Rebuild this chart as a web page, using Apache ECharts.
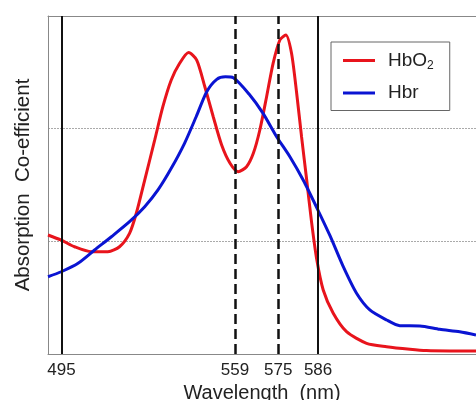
<!DOCTYPE html>
<html>
<head>
<meta charset="utf-8">
<script src="https://cdn.jsdelivr.net/npm/echarts@6/dist/echarts.min.js"></script>
<style>html,body{margin:0;padding:0;background:#fff}#c{width:476px;height:400px}</style>
</head>
<body>
<div id="c"></div>
<script>
// HbO2 absorption curve (wavelength nm, relative absorption)
var hbo2Wl = [490, 494.9, 499.8, 506, 512.1, 516.4, 520.1, 522.6, 525.7, 529.4, 532.4, 535.5, 538.6, 541.9, 544.9, 547.9, 551, 554.1, 557.2, 560.2, 563.3, 565.8, 568.2, 570.7, 573.1, 575.6, 577.8, 579.9, 581.8, 583.6, 585.5, 587.3, 589.2, 591.6, 595.3, 600.2, 607.6, 615, 623.6, 629.7, 638.3, 648];
var hbo2Abs = [1.056, 1.01, 0.952, 0.908, 0.908, 0.952, 1.071, 1.249, 1.544, 1.90, 2.195, 2.432, 2.58, 2.676, 2.609, 2.372, 2.106, 1.855, 1.693, 1.618, 1.662, 1.781, 1.988, 2.284, 2.58, 2.787, 2.831, 2.669, 2.314, 1.929, 1.544, 1.17, 0.84, 0.568, 0.361, 0.198, 0.095, 0.065, 0.042, 0.03, 0.027, 0.027];
// Hbr absorption curve
var hbrWl = [490, 494.9, 501.1, 507.2, 513.4, 520.1, 525.7, 530.6, 535.5, 540.4, 544.7, 548.6, 552.3, 555.5, 558.4, 564.5, 569.4, 574.4, 579.3, 584.2, 589.2, 594.1, 599, 603.9, 608.8, 615, 619.9, 627.3, 634.6, 642, 648];
var hbrAbs = [0.686, 0.73, 0.805, 0.923, 1.041, 1.174, 1.307, 1.456, 1.648, 1.87, 2.106, 2.328, 2.438, 2.46, 2.452, 2.299, 2.136, 1.929, 1.751, 1.544, 1.3, 1.05, 0.775, 0.539, 0.391, 0.302, 0.251, 0.249, 0.219, 0.198, 0.169];
// vertical marker lines (positions as drawn) and their tick labels
var markerPos = [495, 559, 575, 589.7];
var markerLabels = ['495', '559', '575', '586'];
var markerDashed = [false, true, true, false];

function pairs(xs, ys) { return xs.map(function (x, i) { return [x, ys[i]]; }); }

var chart = echarts.init(document.getElementById('c'));
var FONT = 'Liberation Sans, Arial, sans-serif';
chart.setOption({
  animation: false,
  grid: { left: 48, top: 16, right: 0, bottom: 46, outerBoundsMode: 'none', containLabel: false },
  xAxis: [{
    type: 'value', min: 490, max: 648,
    name: 'Wavelength  (nm)', nameLocation: 'middle', nameGap: 27,
    nameTextStyle: { fontFamily: FONT, fontSize: 20, color: '#222' },
    axisLine: { show: true, lineStyle: { color: '#888', width: 1 } },
    axisTick: { show: false },
    splitLine: { show: false },
    axisLabel: {
      customValues: markerPos, margin: 8,
      fontFamily: FONT, fontSize: 17, color: '#222',
      formatter: function (v) { var i = markerPos.indexOf(v); return i >= 0 ? markerLabels[i] : ''; }
    }
  }, {
    type: 'value', min: 490, max: 648, position: 'top',
    axisLine: { show: true, onZero: false, lineStyle: { color: '#888', width: 1 } },
    axisTick: { show: false }, axisLabel: { show: false }, splitLine: { show: false }
  }],
  yAxis: {
    type: 'value', min: 0, max: 3, interval: 1,
    name: 'Absorption  Co-efficient', nameLocation: 'middle', nameGap: 14,
    nameTextStyle: { fontFamily: FONT, fontSize: 20.5, color: '#222' },
    axisLine: { show: true, lineStyle: { color: '#888', width: 1 } },
    axisTick: { show: false }, axisLabel: { show: false },
    splitLine: { show: true, lineStyle: { color: '#aaa', width: 1, type: [2, 1] } }
  },
  legend: {
    orient: 'vertical', left: 331, top: 42,
    padding: [9, 16, 8, 12],
    itemGap: 12, itemWidth: 32, itemHeight: 3, icon: 'rect',
    borderColor: '#666', borderWidth: 1,
    data: ['HbO2', 'Hbr'],
    formatter: function (n) { return n === 'HbO2' ? '{a|HbO}{s|2}' : '{a|Hbr}'; },
    textStyle: {
      padding: [0, 0, 0, 8],
      rich: {
        a: { fontFamily: FONT, fontSize: 19, lineHeight: 20, color: '#222' },
        s: { fontFamily: FONT, fontSize: 12, color: '#222', padding: [10, 0, 0, 0] }
      }
    }
  },
  series: [{
    name: 'HbO2', type: 'line', data: pairs(hbo2Wl, hbo2Abs),
    symbol: 'none', smooth: 0.25, color: '#e8141c',
    lineStyle: { width: 3, color: '#e8141c' }, z: 3,
    markLine: {
      silent: true, symbol: 'none', label: { show: false },
      data: markerPos.map(function (p, i) {
        return { xAxis: p, lineStyle: { color: '#111', width: markerDashed[i] ? 2.5 : 2, type: markerDashed[i] ? [10, 5] : 'solid' } };
      })
    }
  }, {
    name: 'Hbr', type: 'line', data: pairs(hbrWl, hbrAbs),
    symbol: 'none', smooth: 0.25, color: '#0a14d2',
    lineStyle: { width: 3, color: '#0a14d2' }, z: 3
  }]
});
</script>
</body>
</html>
